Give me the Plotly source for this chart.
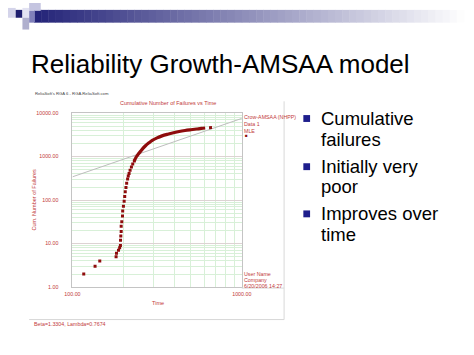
import plotly.graph_objects as go

W, H = 474, 355

# ---- data ----
early_time = [116.6, 136, 145, 181, 182, 187, 190, 192, 192.3, 193, 194, 194, 195.6, 197.5,
              198, 200, 202, 203.5, 205, 207, 209, 211.7, 213.6, 216, 219, 223, 227, 232]
early_count = [2, 3, 4, 5, 6, 7, 8, 9, 12, 15, 19, 25, 32, 43,
               56, 72, 94, 121, 155, 195, 243, 304, 356, 409, 486, 577, 673, 795]

dense_time = [232, 238, 245, 253, 260, 270, 283, 296, 316, 338, 365, 395, 427, 462, 500, 541, 577, 608]
dense_count = [795, 980, 1145, 1337, 1524, 1780, 2080, 2370, 2700, 2995, 3270, 3535, 3785, 3985,
               4150, 4305, 4445, 4540]

tail_time = [641, 667]
tail_count = [4600, 4640]

fit_time = [100, 1000]
fit_count = [343, 7540]

x_ticks = [100, 1000]
x_ticktext = ["100.00", "1000.00"]
x_minor = [200, 300, 400, 500, 600, 700, 800, 900]
y_ticks = [1, 10, 100, 1000, 10000]
y_ticktext = ["1.00", "10.00", "100.00", "1000.00", "10000.00"]
y_minor = [m * d for d in (1, 10, 100, 1000) for m in range(2, 10)]

bullets = [["Cumulative", "failures"], ["Initially very", "poor"], ["Improves over", "time"]]

RED = "#c23a3a"
DARK = "#8e0c0c"


def px(x):
    return x / W


def py(y):
    return 1 - y / H


fig = go.Figure()
fig.add_trace(go.Scatter(x=fit_time, y=fit_count, mode="lines",
                         line=dict(color="#bdbdbd", width=1), hoverinfo="skip"))
fig.add_trace(go.Scatter(x=dense_time, y=dense_count, mode="lines",
                         line=dict(color=DARK, width=3.2, shape="spline"), hoverinfo="skip"))
fig.add_trace(go.Scatter(x=tail_time, y=tail_count, mode="lines",
                         line=dict(color=DARK, width=3), hoverinfo="skip"))
fig.add_trace(go.Scatter(x=early_time, y=early_count, mode="markers",
                         marker=dict(color=DARK, size=3.0, symbol="square"), hoverinfo="skip"))

tickfont = dict(family="Liberation Sans", size=5.3, color=RED)
fig.update_xaxes(type="log", range=[2, 3], domain=[px(67), px(243)],
                 tickvals=x_ticks, ticktext=x_ticktext, tickfont=tickfont,
                 showgrid=True, gridcolor="#ddd3d3", gridwidth=1,
                 minor=dict(tickvals=x_minor, showgrid=True, gridcolor="#d8f0d8", gridwidth=1, ticks=""),
                 showline=True, linecolor="#c4c4c4", linewidth=1, mirror=True,
                 ticks="", ticklabelstandoff=2, zeroline=False)
fig.update_yaxes(type="log", range=[0, 4], domain=[py(289), py(112)],
                 tickvals=y_ticks, ticktext=y_ticktext, tickfont=tickfont,
                 showgrid=True, gridcolor="#ddd3d3", gridwidth=1,
                 minor=dict(tickvals=y_minor, showgrid=True, gridcolor="#d8f0d8", gridwidth=1, ticks=""),
                 showline=True, linecolor="#c4c4c4", linewidth=1, mirror=True,
                 ticks="", ticklabelstandoff=12, zeroline=False)

shapes = []
# header gradient bar
n = 60
x0, x1 = 27, 474
c0 = (35, 35, 120)
for i in range(n):
    a = x0 + (x1 - x0) * i / n
    b = x0 + (x1 - x0) * (i + 1) / n
    f = (i + 0.5) / n
    col = tuple(int(c0[k] + (255 - c0[k]) * f) for k in range(3))
    shapes.append(dict(type="rect", xref="paper", yref="paper", x0=px(a), x1=px(b) + 0.001,
                       y0=py(20), y1=py(7), line=dict(width=0),
                       fillcolor="rgb(%d,%d,%d)" % col, layer="below"))
squares = [
    ((0, 5, 8, 15), "rgb(212,212,234)"),
    ((8, 7, 15, 15), "rgb(30,30,110)"),
    ((15, 5, 22, 15), "rgb(226,226,242)"),
    ((22, 0, 34, 8), "rgb(196,196,224)"),
    ((15, 15, 22, 27), "rgb(176,176,206)"),
    ((22, 8, 28, 20), "rgb(128,128,186)"),
]
for (a, b, c, d), col in squares:
    shapes.append(dict(type="rect", xref="paper", yref="paper", x0=px(a), x1=px(c),
                       y0=py(d), y1=py(b), line=dict(width=0), fillcolor=col))
# chart frame lines
for (a, b, c, d) in [(22, 322, 287, 322), (287, 100, 287, 322), (243, 290, 287, 290)]:
    shapes.append(dict(type="line", xref="paper", yref="paper", x0=px(a), y0=py(b),
                       x1=px(c), y1=py(d), line=dict(color="#d8d8d8", width=1)))
# bullet squares
for i in range(3):
    yc = [117, 166, 214][i]
    shapes.append(dict(type="rect", xref="paper", yref="paper", x0=px(307), x1=px(314),
                       y0=py(yc + 4), y1=py(yc - 3), line=dict(width=0), fillcolor="#1e1e8c"))

ann = []


def text(x, y, s, size, color, xanchor="left", font="Liberation Sans", angle=0):
    ann.append(dict(x=px(x), y=py(y), xref="paper", yref="paper", text=s, showarrow=False,
                    xanchor=xanchor, yanchor="middle", textangle=angle,
                    font=dict(family=font, size=size, color=color)))


text(22, 62, "Reliability Growth-AMSAA model", 26, "#000000")
text(26, 92, "ReliaSoft's RGA 6 - RGA.ReliaSoft.com", 4.2, "#444444")
text(166, 102, "Cumulative Number of Failures vs Time", 5.5, RED, xanchor="center")
text(27, 200, "Cum. Number of Failures", 5.5, RED, xanchor="center", angle=-90)
text(156, 305, "Time", 5.5, RED, xanchor="center")
text(243, 116, "Crow-AMSAA (NHPP)", 5.3, RED)
text(243, 123, "Data 1", 5.3, RED)
text(243, 130, "MLE", 5.3, RED)
text(244, 135, "■", 4.5, DARK)
text(243, 276, "User Name", 5.3, RED)
text(243, 282, "Company", 5.3, RED)
text(243, 288, "6/20/2006 14:27", 5.3, RED)
text(25, 327, "Beta=1.3304, Lambda=0.7674", 5.3, RED)

line_y = [117, 139, 166, 187, 214, 235]
k = 0
for pair in bullets:
    for s in pair:
        text(323, line_y[k], s, 18.5, "#000000")
        k += 1

fig.update_layout(width=W, height=H, margin=dict(l=0, r=0, t=0, b=0),
                  paper_bgcolor="white", plot_bgcolor="white", showlegend=False,
                  shapes=shapes, annotations=ann)

fig.write_html("out.html", config={"displayModeBar": False},
               post_script="document.body.style.margin='0';")
